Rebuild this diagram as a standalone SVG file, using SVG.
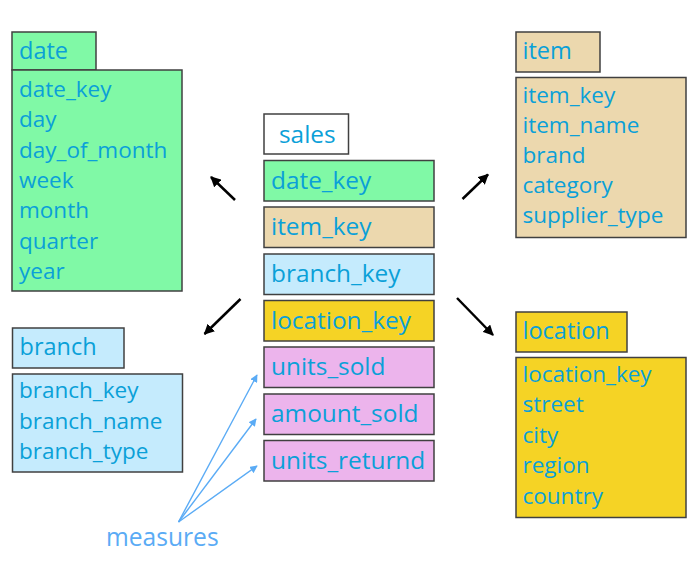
<svg xmlns="http://www.w3.org/2000/svg" width="699" height="562" viewBox="0 0 699 562">
<defs>
<style>
.box{stroke:#404040;stroke-width:1.5}
.g{fill:#80f9a6}.t{fill:#ecd8ae}.b{fill:#c5ebfd}.y{fill:#f5d325}.p{fill:#ecb4ec}.w{fill:#ffffff}
text{font-family:"Open Sans","Liberation Sans",sans-serif;fill:#0aa0d8}
.ti{font-size:23.5px}.li{font-size:22.5px}.ro{font-size:24.4px}
.ms{font-size:24.6px;fill:#5aabf5}
.ka{stroke:#000;stroke-width:2.5;fill:none}
.ba{stroke:#5aabf5;stroke-width:1.4;fill:none}
</style>
<marker id="hk" viewBox="0 0 10 10" refX="9" refY="5" markerWidth="4.2" markerHeight="4.2" orient="auto" markerUnits="strokeWidth">
<path d="M0,0 L10,5 L0,10 z" fill="#000"/>
</marker>
<marker id="hb" viewBox="0 0 10 10" refX="9" refY="5" markerWidth="5.5" markerHeight="5.5" orient="auto" markerUnits="strokeWidth">
<path d="M0,0 L10,5 L0,10 z" fill="#5aabf5"/>
</marker>
</defs>
<rect width="699" height="562" fill="#fff"/>

<g id="date">
<rect class="box g" x="12" y="32" width="84" height="38"/>
<text class="ti" x="19" y="59">date</text>
<rect class="box g" x="12" y="70" width="170" height="221"/>
<text class="li" x="19" y="97">date_key</text>
<text class="li" x="19" y="127.3">day</text>
<text class="li" x="19" y="157.6">day_of_month</text>
<text class="li" x="19" y="187.9">week</text>
<text class="li" x="19" y="218.2">month</text>
<text class="li" x="19" y="248.5">quarter</text>
<text class="li" x="19" y="278.8">year</text>
</g>

<g id="branch">
<rect class="box b" x="12.5" y="328" width="111.5" height="40"/>
<text class="ti" x="19.5" y="354.5">branch</text>
<rect class="box b" x="12.5" y="374" width="170" height="98"/>
<text class="li" x="19" y="398">branch_key</text>
<text class="li" x="19" y="428.5">branch_name</text>
<text class="li" x="19" y="459">branch_type</text>
</g>

<g id="item">
<rect class="box t" x="516" y="32" width="84" height="40"/>
<text class="ti" x="522.5" y="59">item</text>
<rect class="box t" x="516" y="77.5" width="170" height="160"/>
<text class="li" x="522.5" y="102.5">item_key</text>
<text class="li" x="522.5" y="132.7">item_name</text>
<text class="li" x="522.5" y="162.9">brand</text>
<text class="li" x="522.5" y="193.1">category</text>
<text class="li" x="522.5" y="223.3">supplier_type</text>
</g>

<g id="location">
<rect class="box y" x="516" y="312" width="111" height="40"/>
<text class="ti" x="522.5" y="339">location</text>
<rect class="box y" x="516" y="357.5" width="170" height="160"/>
<text class="li" x="522.5" y="382">location_key</text>
<text class="li" x="522.5" y="412.4">street</text>
<text class="li" x="522.5" y="442.8">city</text>
<text class="li" x="522.5" y="473.2">region</text>
<text class="li" x="522.5" y="503.6">country</text>
</g>

<g id="sales">
<rect class="box w" x="264" y="114" width="84.5" height="40"/>
<text class="ro" x="279" y="142.5">sales</text>
<rect class="box g" x="264" y="160.5" width="170" height="40.5"/>
<text class="ro" x="271" y="188.5">date_key</text>
<rect class="box t" x="264" y="207" width="170" height="40.5"/>
<text class="ro" x="271" y="235">item_key</text>
<rect class="box b" x="264" y="254" width="170" height="40.5"/>
<text class="ro" x="271" y="282">branch_key</text>
<rect class="box y" x="264" y="300.5" width="170" height="40.5"/>
<text class="ro" x="271" y="328.5">location_key</text>
<rect class="box p" x="264" y="347" width="170" height="40.5"/>
<text class="ro" x="271" y="375">units_sold</text>
<rect class="box p" x="264" y="394" width="170" height="40.5"/>
<text class="ro" x="271" y="422">amount_sold</text>
<rect class="box p" x="264" y="440.5" width="170" height="40.5"/>
<text class="ro" x="271" y="468.5">units_returnd</text>
</g>

<g id="measures">
<text class="ms" x="106" y="546">measures</text>
</g>

<g id="connectors">
<line class="ka" x1="235" y1="200" x2="211" y2="177" marker-end="url(#hk)"/>
<line class="ka" x1="462.5" y1="199" x2="488" y2="174.5" marker-end="url(#hk)"/>
<line class="ka" x1="240.5" y1="299" x2="204.5" y2="334" marker-end="url(#hk)"/>
<line class="ka" x1="457" y1="298" x2="493" y2="335" marker-end="url(#hk)"/>
<line class="ba" x1="178.5" y1="522" x2="257" y2="375" marker-end="url(#hb)"/>
<line class="ba" x1="178.5" y1="522" x2="256" y2="419" marker-end="url(#hb)"/>
<line class="ba" x1="178.5" y1="522" x2="257" y2="466" marker-end="url(#hb)"/>
</g>
</svg>
